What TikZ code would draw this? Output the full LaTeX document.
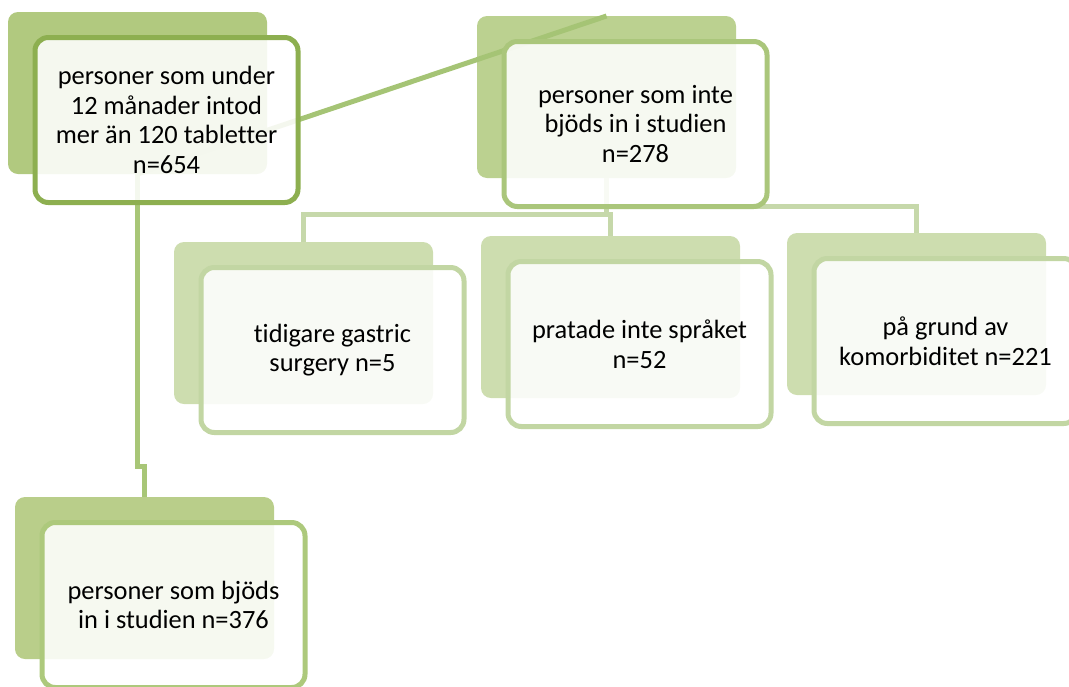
\documentclass[tikz,border=0pt]{standalone}
\usepackage{fontspec}
\setmainfont{Carlito}[Ligatures=NoCommon]
% palette: darker greens on the upper levels, paler ones below
\definecolor{backA}{HTML}{B1C97F}
\definecolor{lineA}{HTML}{8DAF50}
\definecolor{backB}{HTML}{BBD190}
\definecolor{lineB}{HTML}{AAC67B}
\definecolor{backC}{HTML}{CDDDAF}
\definecolor{lineC}{HTML}{C2D6A3}
\definecolor{backD}{HTML}{B9CE8A}
\definecolor{lineD}{HTML}{ADC97C}
\definecolor{linkAB}{HTML}{A5C475}
\definecolor{linkAD}{HTML}{A8C677}
\definecolor{linkBC}{HTML}{C6D8AA}
\begin{document}
\begin{tikzpicture}[x=0.75pt,y=-0.75pt,
  backbox/.style={rounded corners=7.5pt, inner sep=0pt, outer sep=0pt,
    minimum width=194.25pt, minimum height=121.5pt, draw=none},
  frontbox/.style={rounded corners=10pt, line width=3.75pt, fill=white,
    fill opacity=0.88, text opacity=1, draw opacity=1, inner sep=0pt,
    minimum width=197.25pt, minimum height=123.75pt, align=center,
    font=\fontsize{19.8}{22.2}\selectfont},
  link/.style={line width=3.75pt},
]
\clip (0,0) rectangle (1069,686);

% shaded back plates
\node[backbox, fill=backA] (Aback) at (137.5,93) {};
\node[backbox, fill=backB] (Bback) at (606.5,97) {};
\node[backbox, fill=backC] (C1back) at (303.5,323) {};
\node[backbox, fill=backC] (C2back) at (610.5,317) {};
\node[backbox, fill=backC] (C3back) at (916.5,314) {};
\node[backbox, fill=backD] (Dback) at (144.5,578) {};

% connector bends
\coordinate (jA) at (137.5,466);
\coordinate (jD) at (144.5,466);
\coordinate (jB1) at (606.5,214.5);
\coordinate (jC1) at (303.5,214.5);
\coordinate (jC2) at (610.5,214.5);
\coordinate (jB3) at (606.5,206.5);
\coordinate (jC3) at (916.5,206.5);

% connectors
\draw[link, linkAB] (Aback.south) -- (Bback.north);
\draw[link, linkAD] (Aback.south) -- (jA) -- (jD) -- (Dback.north);
\draw[link, linkBC] (Bback.south) -- (jB1) -- (jC1) -- (C1back.north);
\draw[link, linkBC] (Bback.south) -- (jB1) -- (jC2) -- (C2back.north);
\draw[link, linkBC] (Bback.south) -- (jB3) -- (jC3) -- (C3back.north);

% text boxes
\node[frontbox, draw=lineA] (A) at (166.5,120)
  {personer som under\\12 månader intod\\mer än 120 tabletter\\n=654};
\node[frontbox, draw=lineB] (B) at (635.5,124)
  {personer som inte\\bjöds in i studien\\n=278};
\node[frontbox, draw=lineC] (C1) at (332.5,350)
  {tidigare gastric\\surgery n=5};
\node[frontbox, draw=lineC] (C2) at (639.5,344)
  {pratade inte språket\\n=52};
\node[frontbox, draw=lineC] (C3) at (945.5,341)
  {på grund av\\komorbiditet n=221};
\node[frontbox, draw=lineD] (D) at (173.5,605)
  {personer som bjöds\\in i studien n=376};
\end{tikzpicture}
\end{document}
